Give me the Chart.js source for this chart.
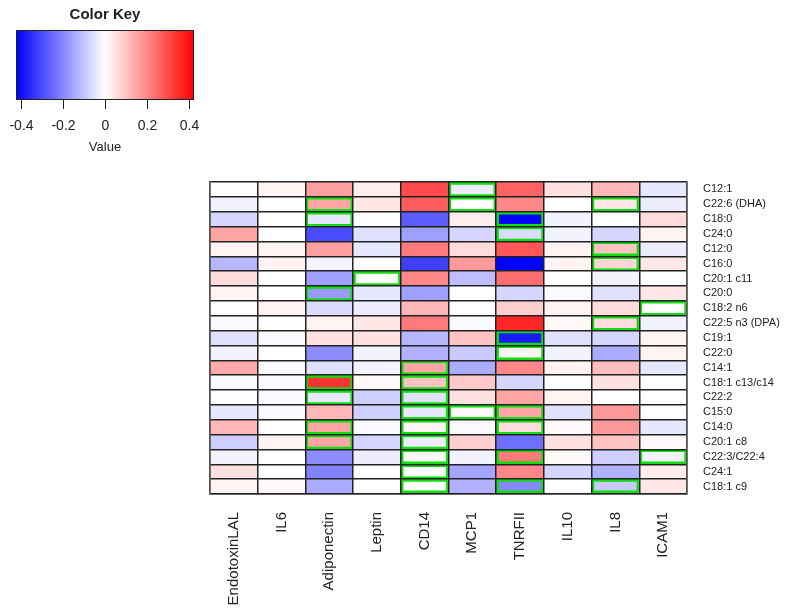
<!DOCTYPE html>
<html>
<head>
<meta charset="utf-8">
<script src="https://cdn.jsdelivr.net/npm/chart.js@4"></script>
<style>
  html, body { margin: 0; padding: 0; background: #fff; }
  #wrap { width: 793px; height: 611px; position: relative; }
</style>
</head>
<body>
<div id="wrap"><canvas id="heat"></canvas></div>
<script>
// columns (markers) and rows (fatty acids), top to bottom
const markers = ["EndotoxinLAL", "IL6", "Adiponectin", "Leptin", "CD14", "MCP1", "TNRFII", "IL10", "IL8", "ICAM1"];
const fattyAcids = ["C12:1", "C22:6 (DHA)", "C18:0", "C24:0", "C12:0", "C16:0", "C20:1 c11", "C20:0",
  "C18:2 n6", "C22:5 n3 (DPA)", "C19:1", "C22:0", "C14:1", "C18:1 c13/c14", "C22:2", "C15:0",
  "C14:0", "C20:1 c8", "C22:3/C22:4", "C24:1", "C18:1 c9"];

// correlation values, one list per row (same order as fattyAcids)
const corr = [
  [ 0.00,  0.02,  0.16,  0.03,  0.30, -0.03,  0.26,  0.05,  0.12, -0.04],
  [-0.02,  0.00,  0.15,  0.04,  0.27,  0.00,  0.20,  0.00,  0.04, -0.03],
  [-0.07,  0.00, -0.04,  0.00, -0.27,  0.03, -0.42, -0.02,  0.00,  0.06],
  [ 0.15,  0.00, -0.30, -0.05, -0.16, -0.07, -0.06, -0.02, -0.07,  0.02],
  [ 0.02,  0.02,  0.16, -0.04,  0.22,  0.06,  0.28,  0.02,  0.10, -0.03],
  [-0.12,  0.02, -0.02,  0.00, -0.32,  0.17, -0.42,  0.02,  0.07,  0.04],
  [ 0.06,  0.00, -0.16,  0.00,  0.20, -0.11,  0.24,  0.00, -0.02,  0.00],
  [ 0.02,  0.00, -0.17, -0.04, -0.16,  0.00, -0.07, -0.01, -0.05,  0.04],
  [ 0.00,  0.02, -0.06, -0.03,  0.12,  0.00,  0.08,  0.02,  0.06,  0.00],
  [-0.01,  0.00,  0.02,  0.04,  0.22, -0.01,  0.36,  0.01,  0.06, -0.02],
  [-0.05, -0.01,  0.05,  0.05, -0.12,  0.10, -0.38, -0.05, -0.07,  0.02],
  [-0.02,  0.00, -0.19, -0.02, -0.13, -0.09,  0.02, -0.02, -0.14,  0.02],
  [ 0.14, -0.01, -0.05, -0.02,  0.15, -0.14,  0.20,  0.02,  0.11, -0.04],
  [-0.01, -0.01,  0.34,  0.01,  0.10,  0.09, -0.07,  0.00,  0.05,  0.00],
  [ 0.00, -0.01, -0.04, -0.08, -0.05,  0.05,  0.15,  0.02,  0.00,  0.00],
  [-0.04, -0.01,  0.12, -0.08, -0.04,  0.01,  0.15, -0.05,  0.17,  0.00],
  [ 0.12,  0.00,  0.15, -0.01,  0.02, -0.01,  0.06,  0.01,  0.17, -0.04],
  [-0.08,  0.02,  0.15, -0.07, -0.03,  0.08, -0.24,  0.05,  0.10,  0.01],
  [-0.02,  0.00, -0.19, -0.03,  0.01, -0.02,  0.22,  0.01, -0.08, -0.02],
  [ 0.05,  0.00, -0.21,  0.00,  0.00, -0.15,  0.20, -0.07, -0.13,  0.03],
  [ 0.02,  0.01, -0.14,  0.00,  0.00, -0.13, -0.20,  0.00, -0.09,  0.04]
];

// cells outlined in green, [row, column]
const outlined = [
  [0, 5], [1, 2], [1, 5], [1, 8], [2, 2], [2, 6], [3, 6], [4, 8], [5, 8], [6, 3], [7, 2],
  [8, 9], [9, 8], [10, 6], [11, 6], [12, 4], [13, 2], [13, 4], [14, 2], [14, 4],
  [15, 4], [15, 5], [15, 6], [16, 2], [16, 4], [16, 6], [17, 2], [17, 4],
  [18, 4], [18, 6], [18, 9], [19, 4], [20, 4], [20, 6], [20, 8]
];

// colour key
const keyMin = -0.424, keyMax = 0.424;
const keyTicks = [-0.4, -0.2, 0, 0.2, 0.4];
const keyTickLabels = ["-0.4", "-0.2", "0", "0.2", "0.4"];

const FONT = "'Liberation Sans', Arial, Helvetica, sans-serif";

function colorFor(v) {
  let t = Math.min(1, Math.abs(v) / keyMax);
  let c = Math.round(255 * (1 - t));
  return v < 0 ? `rgb(${c},${c},255)` : `rgb(255,${c},${c})`;
}

function isOutlined(r, c) {
  return outlined.some(p => p[0] === r && p[1] === c);
}

// one stacked dataset per row, bottom row first
const datasets = [];
for (let r = fattyAcids.length - 1; r >= 0; r--) {
  datasets.push({
    label: fattyAcids[r],
    data: markers.map(() => 1),
    backgroundColor: corr[r].map(colorFor),
    borderColor: "#11dd11",
    borderWidth: markers.map((m, c) => isOutlined(r, c) ? 3 : 0),
    borderSkipped: false,
    categoryPercentage: 1,
    barPercentage: 1,
  });
}

// draws the colour key in the top left corner
const colorKeyPlugin = {
  id: "colorKey",
  afterDraw(chart) {
    const ctx = chart.ctx;
    const x0 = 16, x1 = 194, y0 = 30, y1 = 100;
    const toX = v => x0 + (v - keyMin) / (keyMax - keyMin) * (x1 - x0);
    ctx.save();
    const grad = ctx.createLinearGradient(x0, 0, x1, 0);
    for (let i = 0; i <= 20; i++) {
      const v = keyMin + (keyMax - keyMin) * i / 20;
      grad.addColorStop(i / 20, colorFor(v));
    }
    ctx.fillStyle = grad;
    ctx.fillRect(x0, y0, x1 - x0, y1 - y0);
    ctx.strokeStyle = "#222";
    ctx.lineWidth = 1;
    ctx.strokeRect(x0 + 0.5, y0 + 0.5, x1 - x0 - 1, y1 - y0 - 1);

    ctx.fillStyle = "#222";
    ctx.textAlign = "center";
    ctx.textBaseline = "middle";
    ctx.font = "bold 15px " + FONT;
    ctx.fillText("Color Key", 105, 15);

    ctx.font = "14px " + FONT;
    keyTicks.forEach((v, i) => {
      const x = Math.round(toX(v)) + 0.5;
      ctx.beginPath();
      ctx.moveTo(x, y1);
      ctx.lineTo(x, y1 + 9);
      ctx.stroke();
      ctx.fillText(keyTickLabels[i], x, 126);
    });
    ctx.font = "13px " + FONT;
    ctx.fillText("Value", 105, 147);
    ctx.restore();
  }
};

new Chart(document.getElementById("heat"), {
  type: "bar",
  data: { labels: markers, datasets: datasets },
  options: {
    responsive: true,
    maintainAspectRatio: false,
    animation: false,
    layout: { padding: { left: 210, top: 182, right: 0, bottom: 0 } },
    plugins: {
      legend: { display: false },
      tooltip: { enabled: false },
    },
    scales: {
      x: {
        stacked: true,
        grid: { offset: true, color: "#222", lineWidth: 1.5, drawTicks: false, z: 1 },
        border: { display: true, color: "#555", width: 1.5, z: 1 },
        ticks: {
          minRotation: 90, maxRotation: 90, padding: 18,
          color: "#222", font: { family: FONT, size: 15 },
        },
        afterFit(scale) { scale.height = 117; },
      },
      y: {
        stacked: true,
        min: 0,
        max: fattyAcids.length,
        position: "left",
        grid: { color: "#222", lineWidth: 1.5, drawTicks: false, z: 1 },
        border: { display: true, color: "#555", width: 1.5, z: 1 },
        ticks: { display: false, stepSize: 1 },
        afterFit(scale) { scale.width = 0; },
      },
      rowNames: {
        type: "category",
        labels: fattyAcids,
        position: "right",
        offset: true,
        grid: { display: false, drawTicks: false },
        border: { display: true, color: "#555", width: 1.5, z: 1 },
        ticks: {
          padding: 16, autoSkip: false,
          color: "#222", font: { family: FONT, size: 11 },
        },
        afterFit(scale) { scale.width = 106; },
      },
    },
  },
  plugins: [colorKeyPlugin],
});
</script>
</body>
</html>
